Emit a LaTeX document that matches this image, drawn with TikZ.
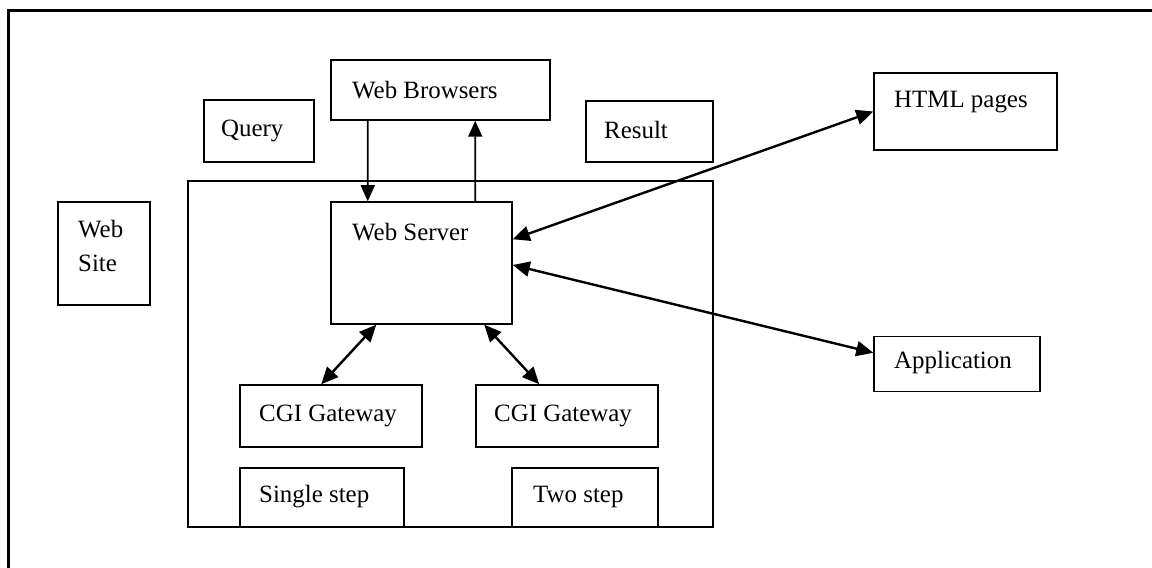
\documentclass[tikz,border=0pt]{standalone}
\usepackage{fontspec}
\setmainfont{Liberation Serif}
\usetikzlibrary{arrows.meta,calc}
\tikzset{
  box/.style={draw, line width=1.5bp, rectangle, inner sep=0pt, fill=none},
  txt/.style={inner sep=0pt, anchor=west, font=\fontsize{25}{28}\selectfont},
  arr/.style={line width=1.8bp, -{Triangle[length=16bp,width=14bp]}},
  darr/.style={line width=2.4bp, {Triangle[length=17bp,width=15bp]}-{Triangle[length=17bp,width=15bp]}},
}
\begin{document}
\begin{tikzpicture}[x=1bp,y=-1bp]
\useasboundingbox (0,0) rectangle (1152,568);
% outer frame
\draw[line width=3bp] (8.5,568) -- (8.5,10.5) -- (1152,10.5);
% container
\node[box, minimum width=525bp, minimum height=346bp] (cont) at (450.5,354) {};
% boxes
\node[box, minimum width=110bp, minimum height=62bp] (q) at (259,131) {};
\node[box, minimum width=219bp, minimum height=60bp] (wb) at (440.5,90) {};
\node[box, minimum width=127bp, minimum height=61bp] (res) at (649.5,131.5) {};
\node[box, minimum width=92bp, minimum height=103bp] (site) at (104,253.5) {};
\node[box, minimum width=181bp, minimum height=122bp] (ws) at (421.5,263) {};
\node[box, minimum width=183bp, minimum height=77bp] (hp) at (965.5,111.5) {};
\node[box, minimum width=166bp, minimum height=55bp] (app) at (957,364) {};
\node[box, minimum width=182bp, minimum height=62bp] (cg1) at (331,416) {};
\node[box, minimum width=182bp, minimum height=62bp] (cg2) at (567,416) {};
\node[box, minimum width=164bp, minimum height=59bp] (ss) at (322,497.5) {};
\node[box, minimum width=146bp, minimum height=59bp] (ts) at (585,497.5) {};
% texts
\node[txt] (tq) at (221,131) {Query};
\node[txt] (twb) at (352,90) {Web Browsers};
\node[txt] (tres) at (604,130) {Result};
\node[txt] (tsite1) at (78,229) {Web};
\node[txt] (tsite2) at (78,263) {Site};
\node[txt] (tws) at (352,232) {Web Server};
\node[txt] (thp) at (894,102) {HTML pages};
\node[txt] (tapp) at (894,363) {Application};
\node[txt] (tcg1) at (259,416) {CGI Gateway};
\node[txt] (tcg2) at (494,416) {CGI Gateway};
\node[txt] (tss) at (259,497) {Single step};
\node[txt] (tts) at (533,497) {Two step};
% connectors
\draw[arr] ($(wb.south west)+(37.5,0)$) -- ($(ws.north west)+(37.5,0)$);
\draw[arr] ($(ws.north west)+(145,0)$) -- ($(wb.south west)+(145,0)$);
\draw[darr] ($(ws.north east)+(0,38)$) -- (hp.west);
\draw[darr] ($(ws.east)+(0,2)$) -- ($(app.north west)+(0,17)$);
\draw[darr] ($(ws.south west)+(46,0)$) -- ($(cg1.north west)+(82,0)$);
\draw[darr] ($(ws.south west)+(154,0)$) -- ($(cg2.north west)+(64,0)$);
\end{tikzpicture}
\end{document}
